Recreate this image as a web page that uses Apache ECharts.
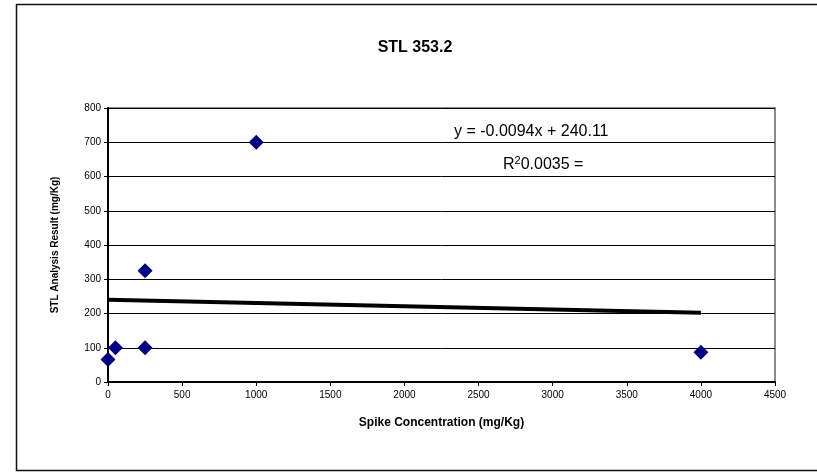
<!DOCTYPE html>
<html>
<head>
<meta charset="utf-8">
<script src="https://cdn.jsdelivr.net/npm/echarts@6/dist/echarts.min.js"></script>
<style>
  html, body { margin: 0; padding: 0; background: #fff; }
  #chart { width: 817px; height: 472px; }
</style>
</head>
<body>
<div id="chart"></div>
<script>
// Spike concentration vs measured result
const spikeConc = [0, 50, 250, 250, 1000, 4000];
const analysisResult = [66, 100, 100, 325, 700, 87];

// Linear trend line reported on the chart
const trendSlope = -0.0094;
const trendIntercept = 240.11;
const trendRange = [0, 4000];
const rSquared = 0.0035;

const xTicks = { min: 0, max: 4500, interval: 500 };
const yTicks = { min: 0, max: 800, interval: 100 };

const FONT = '"Liberation Sans", Arial, sans-serif';

const points = spikeConc.map((x, i) => [x, analysisResult[i]]);
const trend = trendRange.map(x => [x, trendSlope * x + trendIntercept]);

const chart = echarts.init(document.getElementById('chart'));
chart.setOption({
  animation: false,
  backgroundColor: '#fff',
  title: {
    text: 'STL 353.2',
    left: 410,
    top: 35,
    textAlign: 'center',
    textStyle: { fontFamily: FONT, fontSize: 16, fontWeight: 'bold', color: '#000' }
  },
  grid: {
    left: 108, right: 42, top: 108, bottom: 90,
    show: true, borderColor: '#8c8c8c', borderWidth: 2, backgroundColor: '#fff'
  },
  xAxis: {
    type: 'value',
    min: xTicks.min, max: xTicks.max, interval: xTicks.interval,
    name: 'Spike Concentration (mg/Kg)',
    nameLocation: 'middle', nameGap: 35,
    nameTextStyle: { fontFamily: FONT, fontSize: 12, fontWeight: 'bold', color: '#000' },
    axisLine: { show: true, onZero: false, lineStyle: { color: '#000', width: 2 } },
    axisTick: { show: true, length: 4, lineStyle: { color: '#000' } },
    axisLabel: { fontFamily: FONT, fontSize: 10, color: '#000', margin: 8, formatter: v => String(v) },
    splitLine: { show: false }
  },
  yAxis: {
    type: 'value',
    min: yTicks.min, max: yTicks.max, interval: yTicks.interval,
    name: 'STL Analysis Result (mg/Kg)',
    nameLocation: 'middle', nameGap: 48,
    nameTextStyle: { fontFamily: FONT, fontSize: 10, fontWeight: 'bold', color: '#000' },
    axisLine: { show: true, onZero: false, lineStyle: { color: '#000', width: 2 } },
    axisTick: { show: true, length: 4, lineStyle: { color: '#000' } },
    axisLabel: { fontFamily: FONT, fontSize: 10, color: '#000', margin: 7, formatter: v => String(v) },
    splitLine: { show: true, lineStyle: { color: '#000', width: 1 } }
  },
  series: [
    {
      type: 'line',
      data: trend,
      symbol: 'none',
      lineStyle: { color: '#000', width: 4 },
      z: 2
    },
    {
      type: 'scatter',
      data: points,
      symbol: 'diamond',
      symbolSize: 15,
      itemStyle: { color: '#000080', opacity: 1 },
      z: 3
    }
  ],
  graphic: [
    {
      type: 'rect',
      shape: { x: 16.5, y: 4.5, width: 820, height: 466 },
      style: { fill: 'none', stroke: '#111', lineWidth: 1.5 },
      z: 100
    },
    {
      type: 'text',
      left: 454, top: 124,
      style: {
        text: 'y = ' + trendSlope.toFixed(4) + 'x + ' + trendIntercept.toFixed(2),
        fontFamily: FONT, fontSize: 16, fill: '#000'
      },
      z: 50
    },
    {
      type: 'text',
      left: 503, top: 155,
      style: {
        text: 'R{sup|2}' + rSquared.toFixed(4) + ' =',
        fontFamily: FONT, fontSize: 16, fill: '#000',
        rich: { sup: { fontFamily: FONT, fontSize: 11, verticalAlign: 'top', padding: [0, 0, 8, 0] } }
      },
      z: 50
    }
  ]
});
</script>
</body>
</html>
